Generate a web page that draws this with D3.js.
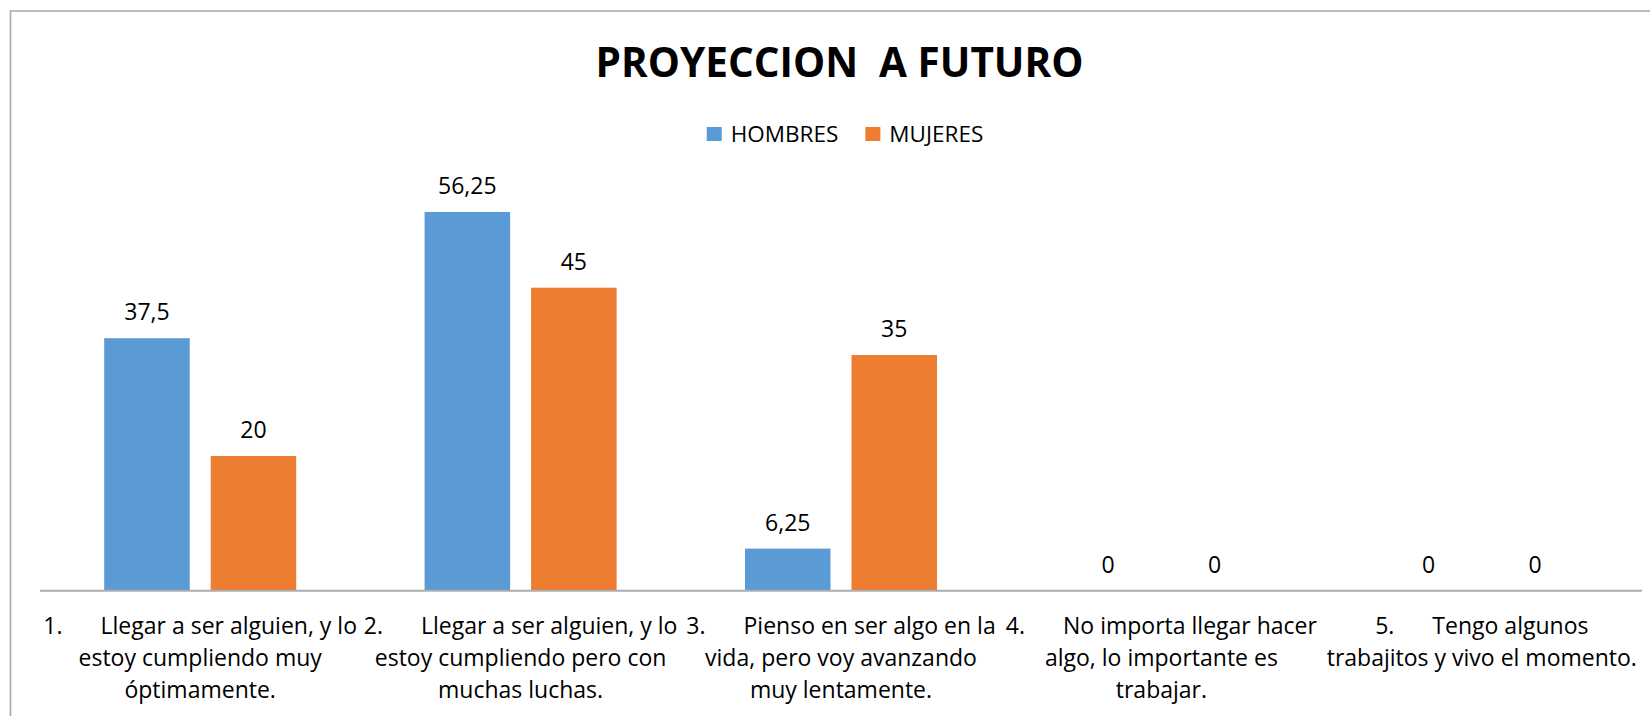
<!DOCTYPE html>
<html>
<head>
<meta charset="utf-8">
<script src="https://cdn.jsdelivr.net/npm/d3@7"></script>
<style>
  body { margin: 0; background: #fff; }
  svg { display: block; font-family: "Open Sans", sans-serif; }
  .title { font-size: 40.5px; font-weight: bold; white-space: pre; }
  .legend-label { font-size: 22.5px; fill: #000; }
  .value-label, .cat-label { font-size: 23px; fill: #000; }
</style>
</head>
<body>
<svg width="1650" height="716"></svg>
<script>
const title = "PROYECCION  A FUTURO";
const series = ["HOMBRES", "MUJERES"];
const colors = ["#5B9BD5", "#ED7D31"];
const catNums = ["1.", "2.", "3.", "4.", "5."];
const catLines = [
  ["Llegar a ser alguien, y lo", "estoy cumpliendo muy", "óptimamente."],
  ["Llegar a ser alguien, y lo", "estoy cumpliendo pero con", "muchas luchas."],
  ["Pienso en ser algo en la", "vida, pero voy avanzando", "muy lentamente."],
  ["No importa llegar hacer", "algo, lo importante es", "trabajar."],
  ["Tengo algunos", "trabajitos y vivo el momento."]
];
const hombres = [37.5, 56.25, 6.25, 0, 0];
const mujeres = [20, 45, 35, 0, 0];

const W = 1650, H = 716;
const plot = { left: 40, right: 1642, top: 186.7, bottom: 590.7 };

const svg = d3.select("svg");

// chart area frame (runs off the right / bottom edge like the source)
svg.append("path")
  .attr("d", `M10.5,${H + 5}V11H${W + 5}`)
  .attr("fill", "none")
  .attr("stroke", "#a9a9a9")
  .attr("stroke-width", 1.6);

const idx = d3.range(catNums.length);
const x0 = d3.scaleBand().domain(idx).range([plot.left, plot.right]);
const x1 = d3.scaleBand().domain(series).range([0, x0.bandwidth()])
  .paddingInner(0.197).paddingOuter(0.6026);
const y = d3.scaleLinear().domain([0, 60]).range([plot.bottom, plot.top]);

const rows = idx.map(i => ({ i, vals: [hombres[i], mujeres[i]] }));

const fmt = v => String(v).replace(".", ",");

const groups = svg.append("g").selectAll("g")
  .data(rows)
  .join("g")
  .attr("transform", d => `translate(${x0(d.i)},0)`);

groups.selectAll("rect")
  .data(d => d.vals.map((v, k) => ({ k, v })))
  .join("rect")
  .attr("x", d => x1(series[d.k]))
  .attr("width", x1.bandwidth())
  .attr("y", d => y(d.v))
  .attr("height", d => y(0) - y(d.v))
  .attr("fill", d => colors[d.k]);

groups.selectAll("text")
  .data(d => d.vals.map((v, k) => ({ k, v })))
  .join("text")
  .attr("class", "value-label")
  .attr("text-anchor", "middle")
  .attr("x", d => x1(series[d.k]) + x1.bandwidth() / 2)
  .attr("y", d => y(d.v) - 18)
  .text(d => fmt(d.v));

// category axis
svg.append("line")
  .attr("x1", plot.left).attr("x2", plot.right)
  .attr("y1", plot.bottom).attr("y2", plot.bottom)
  .attr("stroke", "#adadad")
  .attr("stroke-width", 2);

const lineH = 32;
idx.forEach(i => {
  const cx = x0(i) + x0.bandwidth() / 2;
  catLines[i].forEach((ln, j) => {
    const t = svg.append("text")
      .attr("class", "cat-label")
      .attr("text-anchor", "middle")
      .attr("x", cx)
      .attr("y", 634 + j * lineH);
    if (j === 0) {
      t.append("tspan").text(catNums[i]);
      t.append("tspan").attr("dx", 38).text(ln);
    } else {
      t.text(ln);
    }
  });
});

// title
svg.append("text")
  .attr("class", "title")
  .attr("text-anchor", "middle")
  .attr("x", 839.5)
  .attr("y", 77)
  .text(title);

// legend
const legend = svg.append("g");
let lx = 0;
series.forEach((s, k) => {
  legend.append("rect")
    .attr("x", lx).attr("y", 127)
    .attr("width", 15).attr("height", 14)
    .attr("fill", colors[k]);
  const t = legend.append("text")
    .attr("class", "legend-label")
    .attr("x", lx + 24)
    .attr("y", 142)
    .text(s);
  lx += 24 + t.node().getComputedTextLength() + 27;
});
const lw = lx - 27;
legend.attr("transform", `translate(${845 - lw / 2},0)`);
</script>
</body>
</html>
